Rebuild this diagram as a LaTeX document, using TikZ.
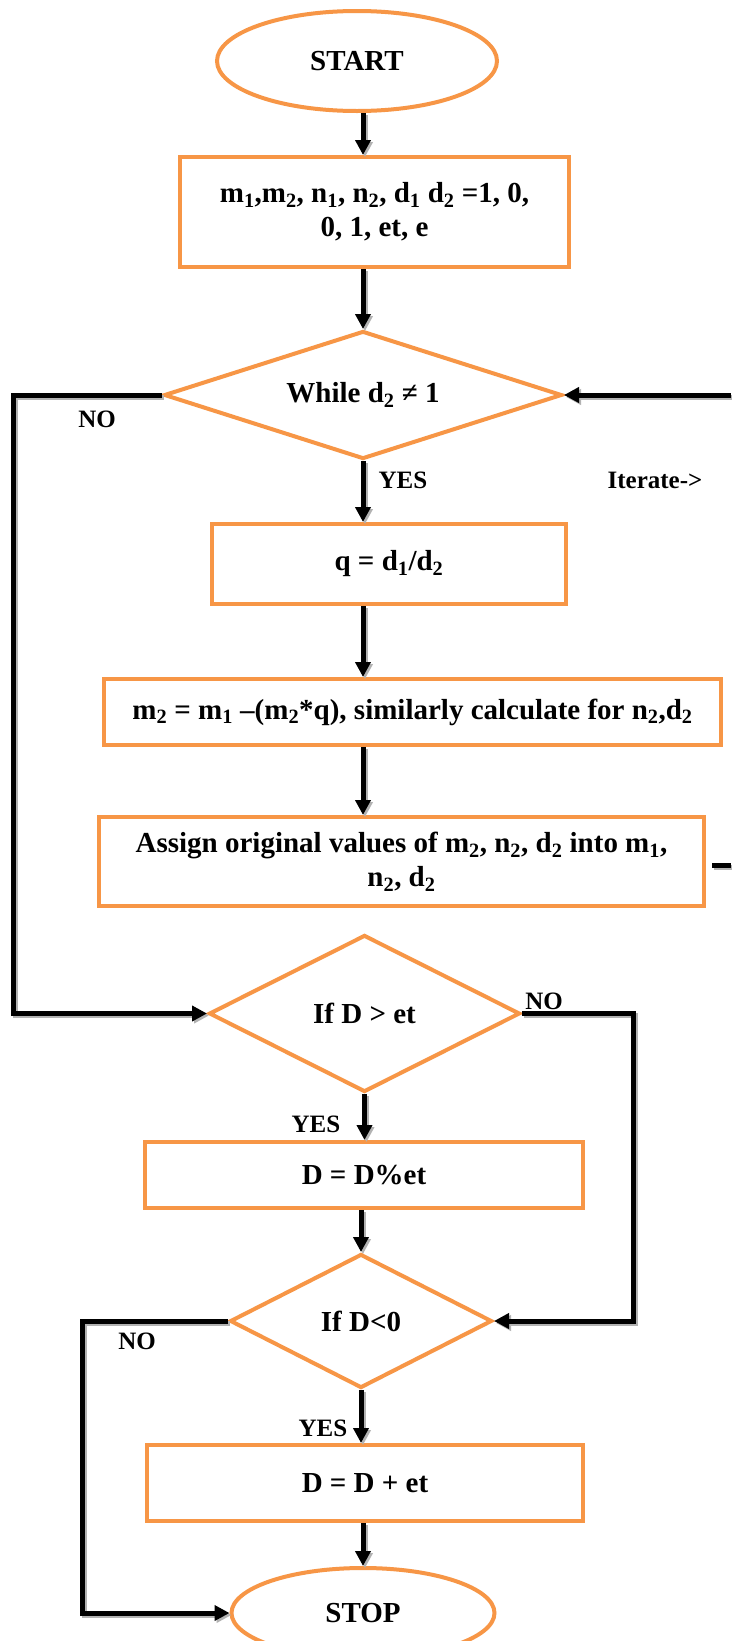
\documentclass[tikz,border=0pt]{standalone}
\usepackage{fontspec}
\setmainfont{Liberation Serif}
\usetikzlibrary{shapes.geometric,arrows.meta}
\definecolor{orng}{HTML}{F79646}
\newcommand{\sbs}[1]{\textsubscript{#1}}
\begin{document}
\begin{tikzpicture}[x=1pt,y=-1pt,
  font=\fontsize{29}{34}\selectfont\bfseries,
  box/.style={draw=orng, line width=4pt, rectangle, inner sep=0pt, align=center},
  term/.style={draw=orng, line width=4pt, ellipse, inner sep=0pt},
  dec/.style={draw=orng, line width=4pt, diamond, inner sep=0pt},
  shadowed/.style={preaction={draw=gray!60, line width=5pt, transform canvas={shift={(2pt,-2pt)}}}},
  conn/.style={line width=5pt, draw=black, shadowed, -{Triangle[length=15pt,width=15pt]}},
  plain/.style={line width=5pt, draw=black, shadowed},
  lbl/.style={inner sep=0pt, font=\fontsize{25}{30}\selectfont\bfseries}
]
\useasboundingbox (0,0) rectangle (731,1641);
\fill[white] (0,0) rectangle (731,1641);

\node[term, minimum width=280pt, minimum height=100pt] (start) at (357,61) {START};
\node[box, minimum width=389pt, minimum height=110pt] (init) at (374.5,212) {m\sbs{1},m\sbs{2}, n\sbs{1}, n\sbs{2}, d\sbs{1} d\sbs{2} =1, 0,\\0, 1, et, e};
\node[dec, minimum width=398pt, minimum height=128pt, label=center:{While d\sbs{2} ≠ 1}] (w) at (363,395) {};
\node[box, minimum width=354pt, minimum height=80pt] (q) at (389,564) {q = d\sbs{1}/d\sbs{2}};
\node[box, minimum width=617pt, minimum height=66pt] (m) at (412.5,712) {m\sbs{2} = m\sbs{1} –(m\sbs{2}*q), similarly calculate for n\sbs{2},d\sbs{2}};
\node[box, minimum width=605pt, minimum height=89pt] (asg) at (401.5,861.5) {Assign original values of m\sbs{2}, n\sbs{2}, d\sbs{2} into m\sbs{1},\\n\sbs{2}, d\sbs{2}};
\node[dec, minimum width=311pt, minimum height=157pt, label=center:{If D > et}] (d1) at (364.5,1013.5) {};
\node[box, minimum width=438pt, minimum height=66pt] (mod) at (364,1175) {D = D\%et};
\node[dec, minimum width=262pt, minimum height=134pt, label=center:{If D<0}] (d2) at (361,1321) {};
\node[box, minimum width=436pt, minimum height=76pt] (add) at (365,1483) {D = D + et};
\node[term, minimum width=263pt, minimum height=90pt] (stop) at (363,1613) {STOP};

\coordinate (sp) at (363,0);
\coordinate (L1) at (13,0);
\coordinate (R0) at (731,398);
\coordinate (S0) at (712,865);
\coordinate (S1) at (731,865);
\coordinate (R1) at (633,0);
\coordinate (L2) at (82,0);

\draw[conn] (start.south -| sp) -- (init.north -| sp);
\draw[conn] (init.south -| w.north) -- (w.north);
\draw[conn] (w.south) -- (q.north -| w.south);
\draw[conn] (q.south -| sp) -- (m.north -| sp);
\draw[conn] (m.south -| sp) -- (asg.north -| sp);
\draw[conn] (w.west) -- (w.west -| L1) -- (d1.west -| L1) -- (d1.west);
\draw[conn] (w.east -| R0) -- (w.east);
\draw[plain] (S0) -- (S1);
\draw[conn] (d1.east) -- (d1.east -| R1) -- (d2.east -| R1) -- (d2.east);
\draw[conn] (d1.south) -- (mod.north -| d1.south);
\draw[conn] (mod.south -| d2.north) -- (d2.north);
\draw[conn] (d2.south) -- (add.north -| d2.south);
\draw[conn] (add.south -| stop.north) -- (stop.north);
\draw[conn] (d2.west) -- (d2.west -| L2) -- (stop.west -| L2) -- (stop.west);

\node[lbl] (no1) at (97,419) {NO};
\node[lbl] (yes1) at (403,480) {YES};
\node[lbl] (iter) at (655,480) {Iterate->};
\node[lbl] (no2) at (544,1001) {NO};
\node[lbl] (yes2) at (316,1124) {YES};
\node[lbl] (no3) at (137,1341) {NO};
\node[lbl] (yes3) at (323,1428) {YES};
\end{tikzpicture}
\end{document}
